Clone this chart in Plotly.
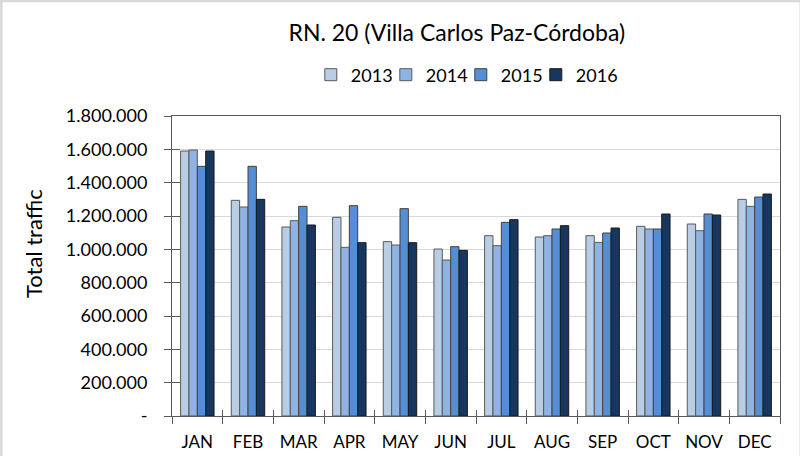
import plotly.graph_objects as go

months = ["JAN", "FEB", "MAR", "APR", "MAY", "JUN", "JUL", "AUG", "SEP", "OCT", "NOV", "DEC"]
years = ["2013", "2014", "2015", "2016"]
traffic_2013 = [1590000, 1294000, 1134000, 1192000, 1046000, 1002000, 1082000, 1074000, 1082000, 1138000, 1152000, 1300000]
traffic_2014 = [1596000, 1254000, 1172000, 1012000, 1026000, 936000, 1022000, 1082000, 1042000, 1122000, 1112000, 1258000]
traffic_2015 = [1498000, 1498000, 1258000, 1262000, 1244000, 1016000, 1162000, 1122000, 1098000, 1122000, 1212000, 1314000]
traffic_2016 = [1590000, 1300000, 1146000, 1040000, 1040000, 994000, 1178000, 1142000, 1128000, 1212000, 1206000, 1332000]
y_ticks = [0, 200000, 400000, 600000, 800000, 1000000, 1200000, 1400000, 1600000, 1800000]
y_ticktext = ["-", "200.000", "400.000", "600.000", "800.000", "1.000.000",
              "1.200.000", "1.400.000", "1.600.000", "1.800.000"]

colors = ["#b9cde5", "#8eb4e3", "#558ed5", "#17375e"]
outlines = ["#595959", "#595959", "#404040", "#1a1a1a"]
series = [traffic_2013, traffic_2014, traffic_2015, traffic_2016]

FONT = "Lato"
fig = go.Figure()
for yr, vals, c, oc in zip(years, series, colors, outlines):
    fig.add_trace(go.Bar(x=months, y=vals, name=yr, marker=dict(color=c, line=dict(color=oc, width=1))))

# transparent bar on the overlay axes: gives the legend a blank last slot (so "2016"
# isn't clipped) and keeps the overlay axes alive for the inner half of the ticks
fig.add_trace(go.Bar(x=[0], y=[0], name=" ", xaxis="x2", yaxis="y2",
                     marker=dict(color="rgba(0,0,0,0)", line=dict(width=0)), hoverinfo="skip"))

fig.update_layout(
    width=800, height=456,
    margin=dict(l=172, r=20, t=116, b=40),
    paper_bgcolor="white", plot_bgcolor="white",
    font=dict(family=FONT, color="#000000"),
    barmode="group", bargap=0.34, bargroupgap=0,
    title=dict(text="RN. 20 (Villa Carlos Paz-Córdoba)", x=0.571, xanchor="center",
               y=1 - 33 / 456, yanchor="middle", font=dict(size=23, family=FONT, color="#000")),
    legend=dict(orientation="h", x=0.2283, xanchor="left", y=1 - 75 / 456, yref="container",
                yanchor="middle", font=dict(size=18), traceorder="normal",
                itemwidth=30, entrywidth=30, entrywidthmode="pixels"),
    xaxis=dict(type="category", showline=True, linecolor="#595959", linewidth=1, mirror=True,
               ticks="outside", tickson="boundaries", ticklen=7, tickcolor="#595959",
               tickfont=dict(size=17), showgrid=False, ticklabelstandoff=11, automargin=False),
    yaxis=dict(range=[0, 1800000], tickvals=y_ticks, ticktext=y_ticktext,
               showline=True, linecolor="#595959", linewidth=1, mirror=True,
               ticks="outside", ticklen=7, tickcolor="#595959",
               showgrid=True, gridcolor="#d9d9d9", gridwidth=1,
               tickfont=dict(size=18), ticklabelstandoff=13, automargin=False),
    xaxis2=dict(overlaying="x", range=[-0.5, 11.5], tickvals=[i + 0.5 for i in range(11)],
                ticks="inside", ticklen=6, tickcolor="#595959", showticklabels=False,
                showgrid=False, zeroline=False, showline=False, automargin=False),
    yaxis2=dict(overlaying="y", range=[0, 1800000], tickvals=y_ticks,
                ticks="inside", ticklen=8, tickcolor="#595959", showticklabels=False,
                showgrid=False, zeroline=False, showline=False, automargin=False),
    annotations=[dict(text="Total traffic", textangle=-90, showarrow=False,
                      xref="paper", yref="paper", x=(33 - 172) / 608, y=(416 - 244) / 300,
                      xanchor="center", yanchor="middle", font=dict(size=22))],
    shapes=[dict(type="path", xref="paper", yref="paper",
                 path="M -0.281 -0.2 L -0.281 1.384 L 1.0345 1.384 L 1.0345 -0.2",
                 line=dict(color="#d9d9d9", width=3))],
)

fig.write_html("out.html", config={"displayModeBar": False},
               post_script="document.body.style.margin='0';")
